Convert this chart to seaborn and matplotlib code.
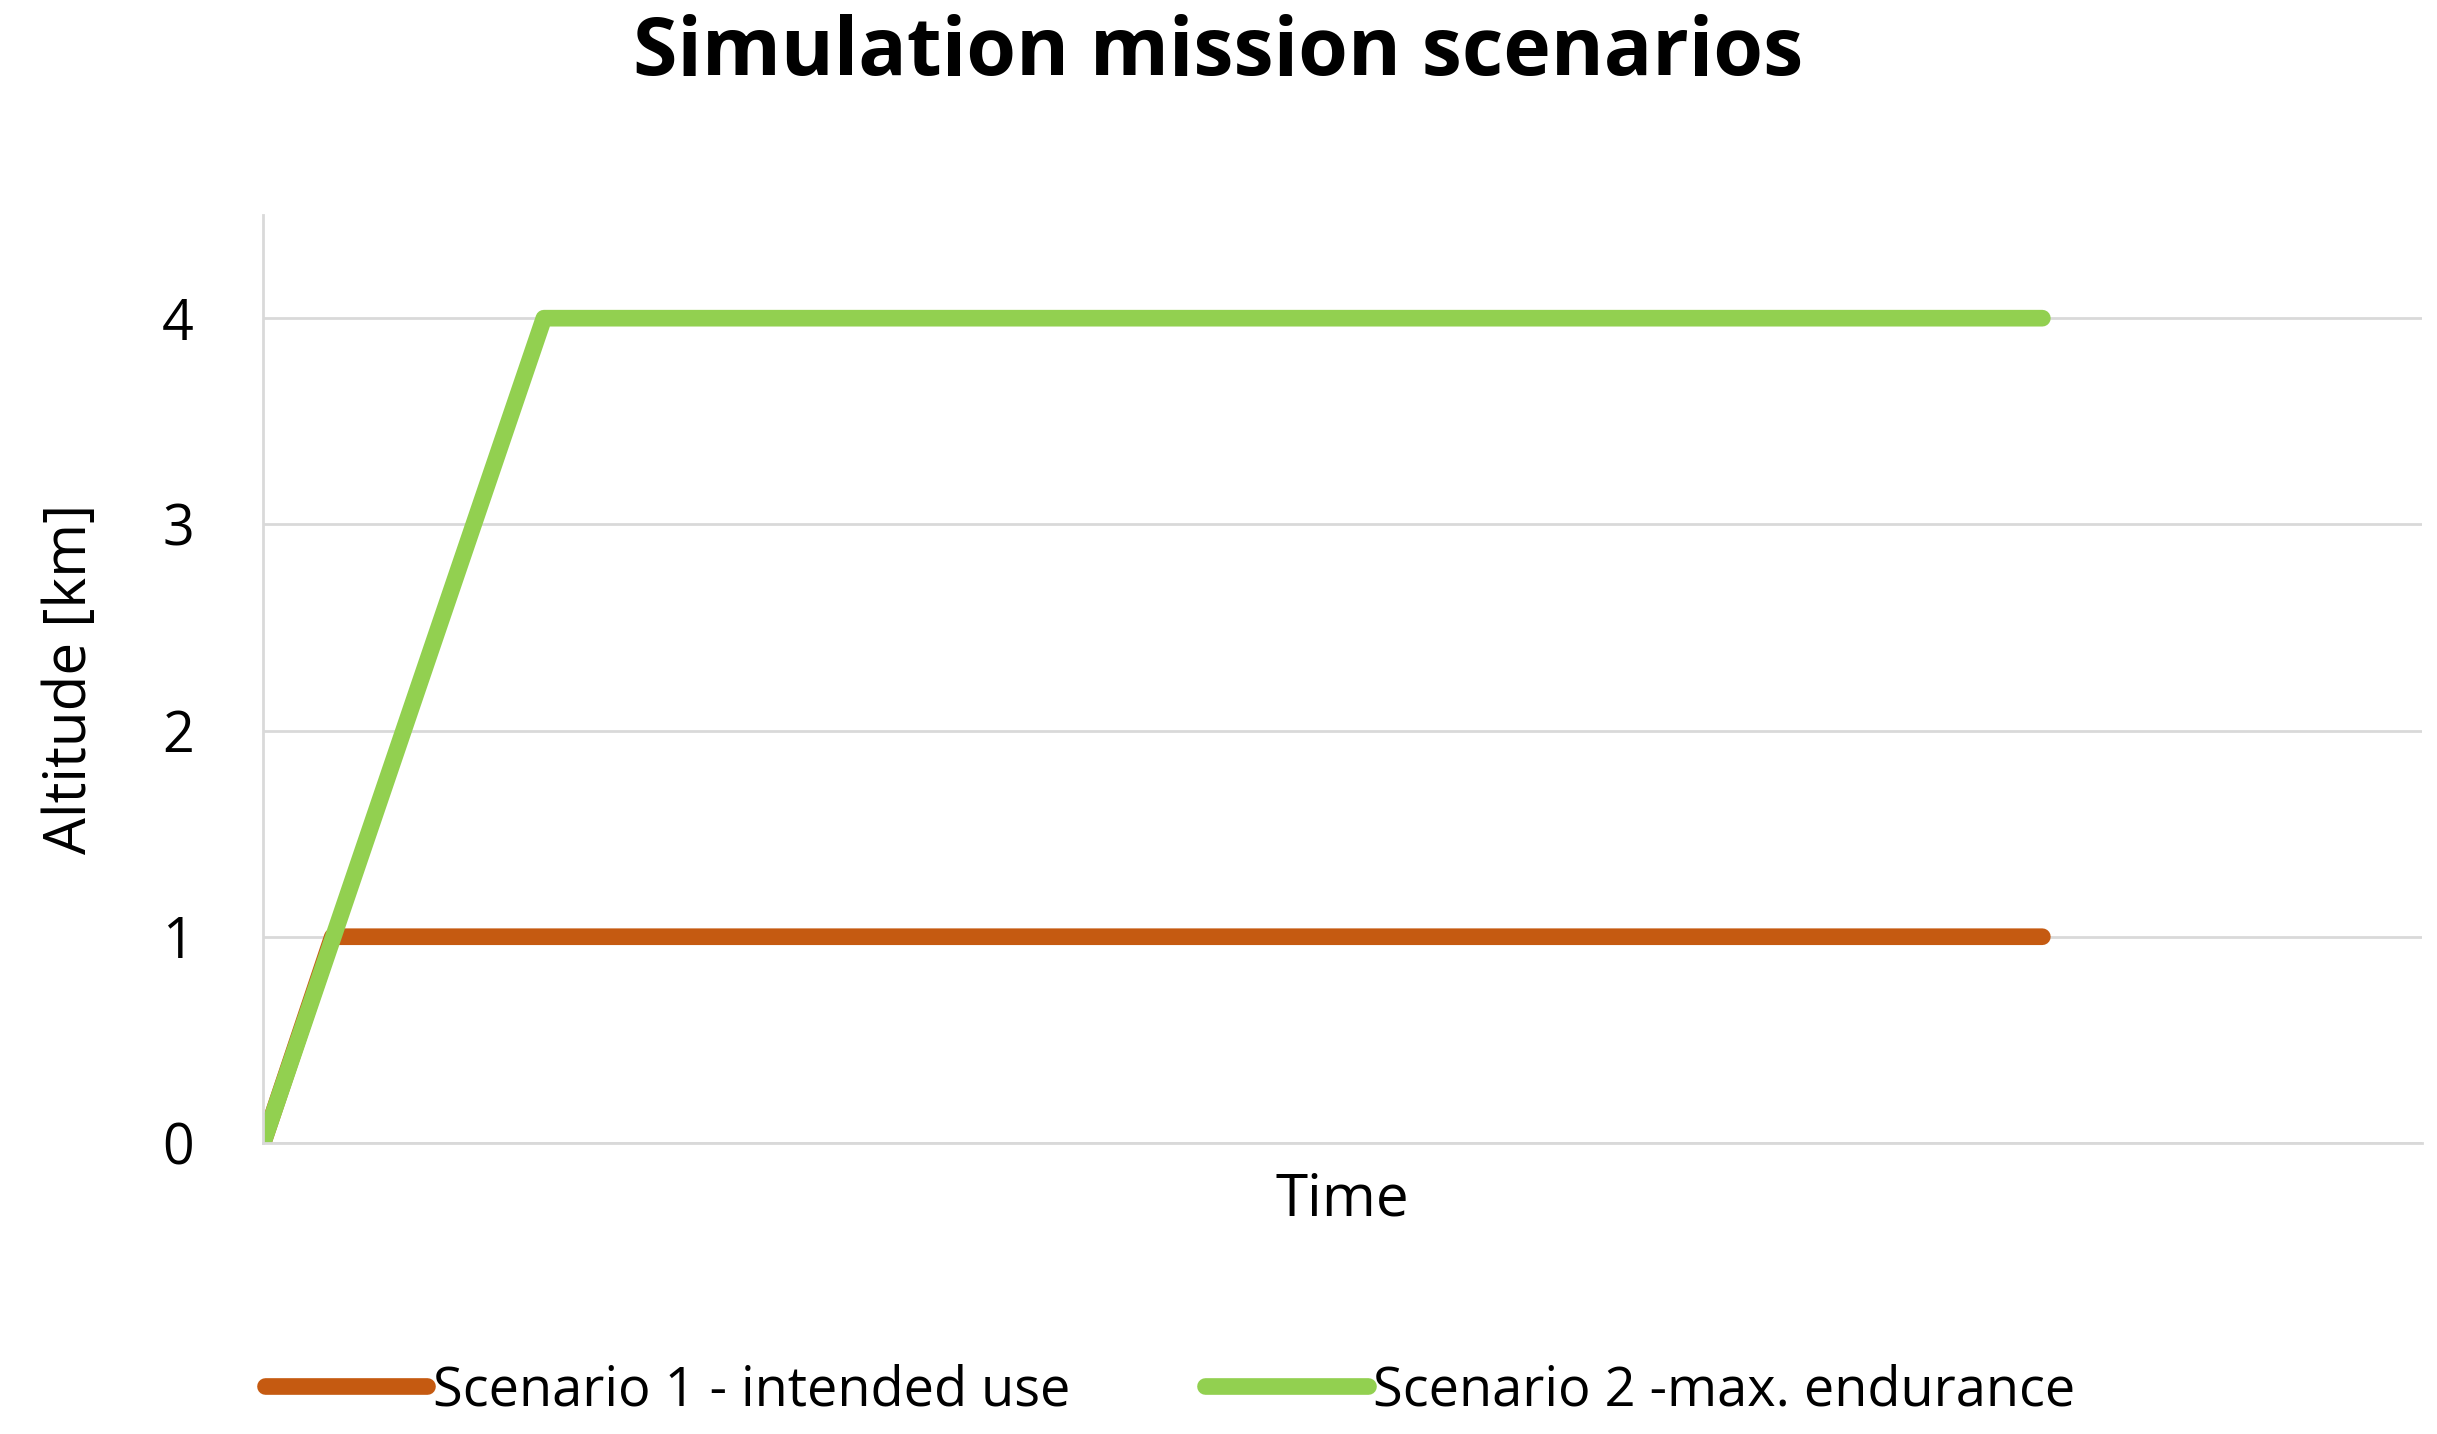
import matplotlib
matplotlib.use("Agg")
import matplotlib.pyplot as plt
import seaborn as sns
import pandas as pd

# Mission profiles (time in arbitrary units, altitude in km)
s1_time = [0, 3.2, 82.4]
s1_alt = [0, 1, 1]
s2_time = [0, 13.0, 82.4]
s2_alt = [0, 4, 4]
labels = ["Scenario 1 - intended use", "Scenario 2 -max. endurance"]
colors = ["#C55A11", "#92D050"]

df = pd.concat([
    pd.DataFrame({"time": s1_time, "alt": s1_alt, "scenario": labels[0]}),
    pd.DataFrame({"time": s2_time, "alt": s2_alt, "scenario": labels[1]}),
])

sns.set_theme(style="white")
plt.rcParams["font.family"] = ["Open Sans", "DejaVu Sans"]
plt.rcParams["text.color"] = "black"
plt.rcParams["axes.labelcolor"] = "black"

fig = plt.figure(figsize=(24.37, 14.34), dpi=100)
ax = fig.add_axes([0.108, 0.203, 0.886, 0.647])
sns.lineplot(data=df, x="time", y="alt", hue="scenario", palette=colors,
             linewidth=12, ax=ax, solid_capstyle="round", legend=True)

ax.set_xlim(0, 100)
ax.set_ylim(0, 4.5)
ax.set_yticks([0, 1, 2, 3, 4])
ax.set_xticks([])
ax.yaxis.grid(True, color="#D9D9D9", linewidth=2)
ax.set_axisbelow(True)
for s in ["top", "right"]:
    ax.spines[s].set_visible(False)
ax.spines["left"].set_color("#D9D9D9")
ax.spines["bottom"].set_color("#D9D9D9")
ax.spines["left"].set_linewidth(2)
ax.spines["bottom"].set_linewidth(2)
ax.tick_params(axis="y", labelsize=40, pad=50, length=0, colors="black")
ax.set_xlabel("Time", fontsize=42, labelpad=20)
ax.set_ylabel("Altitude [km]", fontsize=42, labelpad=45)
fig.suptitle("Simulation mission scenarios", fontsize=58, fontweight="bold", y=0.99)

handles, lbls = ax.get_legend_handles_labels()
ax.legend(handles, lbls, loc="upper center", bbox_to_anchor=(0.42, -0.185),
          ncol=2, frameon=False, fontsize=39, handlelength=3, handletextpad=0.1,
          columnspacing=2.5)

fig.savefig("out.png", dpi=100)
